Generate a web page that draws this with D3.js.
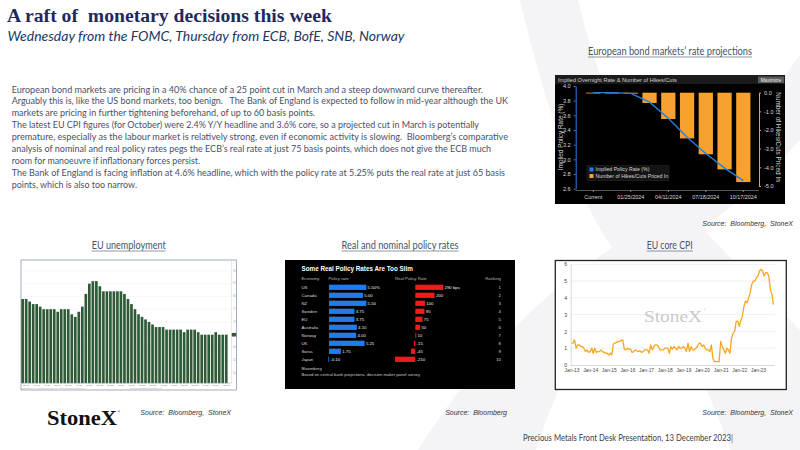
<!DOCTYPE html>
<html>
<head>
<meta charset="utf-8">
<script src="https://cdn.jsdelivr.net/npm/d3@7"></script>
<style>
  html, body { margin: 0; padding: 0; background: #fff; }
  svg { display: block; }
  text { white-space: pre; }
</style>
</head>
<body>
<div id="svgContainer"></div>
<script>
// ---- text ----
const title = "A raft of  monetary decisions this week";
const subtitle = "Wednesday from the FOMC, Thursday from ECB, BofE, SNB, Norway";
const paraLines = [
  "European bond markets are pricing in a 40% chance of a 25 point cut in March and a steep downward curve thereafter.",
  "Arguably this is, like the US bond markets, too benign.   The Bank of England is expected to follow in mid-year although the UK",
  "markets are pricing in further tightening beforehand, of up to 60 basis points.",
  "The latest EU CPI figures (for October) were 2.4% Y/Y headline and 3.6% core, so a projected cut in March is potentially",
  "premature, especially as the labour market is relatively strong, even if economic activity is slowing.  Bloomberg\u2019s comparative",
  "analysis of nominal and real policy rates pegs the ECB\u2019s real rate at just 75 basis points, which does not give the ECB much",
  "room for manoeuvre if inflationary forces persist.",
  "The Bank of England is facing inflation at 4.6% headline, which with the policy rate at 5.25% puts the real rate at just 65 basis",
  "points, which is also too narrow."
];
// right end of each paragraph line (layout)
const paraEnds = [483, 508, 315, 479, 508, 491, 200, 505, 137];

// ---- European bond markets' rate projections ----
const meetings = ["Current", "12/14/2023", "01/25/2024", "03/07/2024", "04/11/2024",
                  "06/06/2024", "07/18/2024", "09/12/2024", "10/17/2024"];
const meetingLabels = ["Current", "01/25/2024", "04/11/2024", "07/18/2024", "10/17/2024"];
const impliedRate = [3.91, 3.91, 3.90, 3.78, 3.56, 3.30, 3.08, 2.88, 2.71];
const hikesCuts = [0.0, -0.02, -0.05, -0.55, -1.41, -2.45, -3.30, -4.11, -4.79];

// ---- EU unemployment (monthly, Dec 2018 - Oct 2023) ----
const unempStart = new Date(2018, 11, 1);
const unemployment = [
  7.9, 7.9, 7.8, 7.7, 7.7, 7.6, 7.5, 7.5, 7.5, 7.5, 7.4, 7.5,
  7.5, 7.5, 7.3, 7.2, 7.4, 7.6, 8.1, 8.5, 8.6, 8.6, 8.4, 8.2,
  8.2, 8.2, 8.2, 8.2, 8.2, 8.1, 7.9, 7.7, 7.5, 7.3, 7.2, 7.1,
  7.0, 6.9, 6.8, 6.8, 6.8, 6.7, 6.7, 6.7, 6.7, 6.7, 6.6, 6.7,
  6.7, 6.7, 6.6, 6.5, 6.5, 6.5, 6.5, 6.6, 6.5, 6.5, 6.5
];
const unempTicks = [5.0, 5.5, 6.0, 6.5, 7.0, 7.5, 8.0, 8.5, 9.0];

// ---- Real and nominal policy rates ----
const economies = ["US", "Canada", "NZ", "Sweden", "EU", "Australia", "Norway", "UK", "Swiss", "Japan"];
const policyRate = [5.50, 5.00, 5.50, 3.75, 3.75, 4.10, 4.00, 5.25, 1.75, -0.10];
const policyLabels = ["5.50%", "5.00", "5.50", "3.75", "3.75", "4.10", "4.00", "5.25", "1.75", "-0.10"];
const realRate = [290, 200, 100, 95, 75, 50, 10, -15, -45, -210];
const realLabels = ["290 bps", "200", "100", "95", "75", "50", "10", "-15", "-45", "-210"];
const ranking = [1, 2, 3, 4, 5, 6, 7, 8, 9, 10];

// ---- EU core CPI (monthly, Jan 2013 - Nov 2023) ----
const cpiStart = new Date(2013, 0, 1);
const coreCpi = [
  1.3, 1.3, 1.5, 1.0, 1.2, 1.2, 1.1, 1.1, 1.0, 0.8, 0.9, 0.75,
  0.8, 1.0, 0.7, 1.0, 0.75, 0.8, 0.8, 0.9, 0.8, 0.75, 0.7, 0.7,
  0.6, 0.7, 0.6, 1.25, 1.3, 1.35, 1.4, 1.4, 1.45, 1.5, 0.95, 0.9,
  1.0, 0.95, 0.95, 0.75, 0.8, 0.9, 0.85, 0.8, 0.85, 0.75, 0.8, 0.9,
  0.9, 0.9, 0.7, 1.2, 0.9, 1.1, 1.2, 1.2, 1.1, 0.9, 0.9, 0.9,
  1.0, 1.0, 1.0, 0.7, 1.1, 0.95, 1.1, 1.0, 0.9, 1.1, 1.0, 1.0,
  1.1, 1.0, 0.8, 1.3, 0.8, 1.1, 0.9, 0.9, 1.0, 1.1, 1.3, 1.3,
  1.1, 1.2, 1.0, 0.9, 0.9, 0.8, 1.2, 0.4, 0.2, 0.2, 0.2, 0.2,
  1.4, 1.1, 0.9, 0.7, 1.0, 0.9, 0.7, 1.6, 1.9, 2.0, 2.6, 2.6,
  2.3, 2.7, 2.9, 3.5, 3.8, 3.7, 4.0, 4.3, 4.8, 5.0, 5.0, 5.2,
  5.3, 5.6, 5.7, 5.6, 5.3, 5.5, 5.5, 5.3, 4.5, 4.2, 3.6
];
const cpiTickYears = [2013, 2014, 2015, 2016, 2017, 2018, 2019, 2020, 2021, 2022, 2023];

const width = 800, height = 450;
const svg = d3.select("#svgContainer").append("svg")
  .attr("width", width).attr("height", height);

// faint logo watermark behind everything
const wm = svg.append("g").attr("fill", "#f4f4f7");
wm.append("path").attr("d", "M418,450 Q500,320 612,248 Q700,190 800,55 L800,140 Q720,230 640,262 Q575,330 536,450 Z");
wm.append("path").attr("d", "M730,450 Q690,330 612,248 Q560,170 520,0 L578,0 Q610,140 690,215 Q770,300 800,330 L800,450 Z");

// ---- title ----
svg.append("text")
  .attr("x", 7).attr("y", 21.5)
  .attr("font-family", "Liberation Serif, serif")
  .attr("font-weight", "bold")
  .attr("font-size", "19.5px")
  .attr("fill", "#1f2a5c")
  .attr("textLength", 325).attr("lengthAdjust", "spacingAndGlyphs")
  .text(title);
svg.append("text")
  .attr("x", 7.5).attr("y", 40.5)
  .attr("font-family", "Lato, sans-serif")
  .attr("font-style", "italic")
  .attr("font-size", "14px")
  .attr("fill", "#203864")
  .attr("textLength", 397).attr("lengthAdjust", "spacingAndGlyphs")
  .text(subtitle);

// ---- paragraph ----
paraLines.forEach((line, i) => {
  svg.append("text")
    .attr("x", 11.7).attr("y", 92.5 + i * 11.95)
    .attr("font-family", "Lato, sans-serif")
    .attr("font-size", "9.6px")
    .attr("fill", "#4a5068")
    .attr("textLength", paraEnds[i] - 11.7).attr("lengthAdjust", "spacingAndGlyphs")
    .text(line);
});

// chart headings (underlined)
function heading(text, cx, y, w) {
  svg.append("text")
    .attr("x", cx).attr("y", y)
    .attr("text-anchor", "middle")
    .attr("font-family", "Lato, sans-serif")
    .attr("font-size", "10.5px")
    .attr("fill", "#44546a")
    .attr("textLength", w).attr("lengthAdjust", "spacingAndGlyphs")
    .text(text);
  svg.append("line")
    .attr("x1", cx - w / 2).attr("x2", cx + w / 2)
    .attr("y1", y + 2).attr("y2", y + 2)
    .attr("stroke", "#44546a").attr("stroke-width", 0.6);
}
heading("European bond markets\u2019 rate projections", 670, 55, 164);
heading("EU unemployment", 128.7, 249, 74);
heading("Real and nominal policy rates", 400, 249, 117);
heading("EU core CPI", 669.7, 249, 46);

function source(text, xRight, y) {
  svg.append("text")
    .attr("x", xRight).attr("y", y)
    .attr("text-anchor", "end")
    .attr("font-family", "Liberation Sans, Arial, sans-serif")
    .attr("font-style", "italic")
    .attr("font-size", "7px")
    .attr("fill", "#333")
    .text(text);
}
source("Source:  Bloomberg,  StoneX", 793, 226);
source("Source:  Bloomberg,  StoneX", 231, 414.5);
source("Source:  Bloomberg", 507, 415);
source("Source:  Bloomberg,  StoneX", 793, 414.5);

// ================= Bloomberg rate projections =================
const bb = svg.append("g").attr("font-family", "Liberation Sans, Arial, sans-serif");
bb.append("rect").attr("x", 555).attr("y", 75).attr("width", 230).attr("height", 129).attr("fill", "#000");
bb.append("rect").attr("x", 555).attr("y", 75).attr("width", 230).attr("height", 9).attr("fill", "#1b1b1b");
bb.append("text").attr("x", 558).attr("y", 81.8).attr("font-size", "5.6px").attr("fill", "#d0d0d0")
  .text("Implied Overnight Rate & Number of Hikes/Cuts");
bb.append("rect").attr("x", 758).attr("y", 76.5).attr("width", 26).attr("height", 6.5).attr("fill", "#5a5a5a");
bb.append("text").attr("x", 771).attr("y", 81.5).attr("text-anchor", "middle").attr("font-size", "4.8px")
  .attr("fill", "#eee").text("Maximize");

const bx = d3.scaleBand().domain(meetings).range([583.9, 752.7]).paddingInner(0.24).paddingOuter(0.12);
const yL = d3.scaleLinear().domain([2.6, 4.0]).range([188.7, 86]);
const yR = d3.scaleLinear().domain([-5, 0]).range([186, 92.7]);

bb.append("g").selectAll("rect").data(hikesCuts).join("rect")
  .attr("x", (d, i) => bx(meetings[i]))
  .attr("width", bx.bandwidth())
  .attr("y", yR(0))
  .attr("height", d => Math.max(0.8, yR(d) - yR(0)))
  .attr("fill", "#f7a12e");

const line = d3.line()
  .x((d, i) => bx(meetings[i]) + bx.bandwidth() / 2)
  .y(d => yL(d));
bb.append("path").datum(impliedRate)
  .attr("d", line)
  .attr("fill", "none")
  .attr("stroke", "#1f7fe3")
  .attr("stroke-width", 1.4);

const axL = bb.append("g").attr("transform", "translate(575.7,0)")
  .call(d3.axisLeft(yL).tickValues(d3.range(2.6, 4.01, 0.2)).tickFormat(d => d.toFixed(1)).tickSize(2).tickSizeOuter(0));
axL.select(".domain").attr("stroke", "#2a7fe0");
axL.selectAll(".tick line").attr("stroke", "#2a7fe0");
axL.selectAll("text").attr("fill", "#d8d8d8").attr("font-size", "5.6px").attr("font-family", "Liberation Sans, Arial, sans-serif");

const axR = bb.append("g").attr("transform", "translate(759,0)")
  .call(d3.axisRight(yR).tickValues([-5, -4, -3, -2, -1, 0]).tickFormat(d => d.toFixed(1)).tickSize(2).tickSizeOuter(0));
axR.select(".domain").attr("stroke", "#f7a12e");
axR.selectAll(".tick line").attr("stroke", "#f7a12e");
axR.selectAll("text").attr("fill", "#d8d8d8").attr("font-size", "5.6px").attr("font-family", "Liberation Sans, Arial, sans-serif");

const axB = bb.append("g").attr("transform", "translate(0,190)")
  .call(d3.axisBottom(bx).tickValues(meetingLabels).tickSize(2).tickSizeOuter(0));
axB.select(".domain").attr("stroke", "#555").attr("d", "M575.7,0.5H759");
axB.selectAll(".tick line").attr("stroke", "#888");
axB.selectAll("text").attr("fill", "#d8d8d8").attr("font-size", "5.4px").attr("font-family", "Liberation Sans, Arial, sans-serif");

bb.append("text").attr("transform", "translate(563,137) rotate(-90)").attr("text-anchor", "middle")
  .attr("font-size", "6.4px").attr("fill", "#d8d8d8").text("Implied Policy Rate (%)");
bb.append("text").attr("transform", "translate(776,137) rotate(90)").attr("text-anchor", "middle")
  .attr("font-size", "6.4px").attr("fill", "#d8d8d8").text("Number of Hikes/Cuts Priced In");

const lg = bb.append("g");
lg.append("rect").attr("x", 587).attr("y", 165.5).attr("width", 82).attr("height", 15).attr("fill", "#141414").attr("stroke", "#333").attr("stroke-width", 0.4);
[["Implied Policy Rate (%)", "#1f7fe3"], ["Number of Hikes/Cuts Priced In", "#f7a12e"]].forEach((d, i) => {
  lg.append("rect").attr("x", 589.5).attr("y", 167.5 + i * 6.5).attr("width", 4).attr("height", 4).attr("fill", d[1]);
  lg.append("text").attr("x", 595.5).attr("y", 171.2 + i * 6.5).attr("font-size", "5.2px").attr("fill", "#d8d8d8").text(d[0]);
});

// ================= EU unemployment =================
const ue = svg.append("g").attr("font-family", "Liberation Sans, Arial, sans-serif");
ue.append("rect").attr("x", 21).attr("y", 260).attr("width", 215.5).attr("height", 130)
  .attr("fill", "#fff").attr("stroke", "#8c97b6").attr("stroke-width", 0.8);
const uMonths = unemployment.map((d, i) => d3.timeMonth.offset(unempStart, i));
const ux = d3.scaleBand().domain(uMonths).range([21.3, 227.6]).paddingInner(0.24);
const uy = d3.scaleLinear().domain([4.6, 9.4]).range([383.2, 260.7]);
ue.append("g").selectAll("line").data(unempTicks).join("line")
  .attr("x1", 21.3).attr("x2", 231.5)
  .attr("y1", d => uy(d)).attr("y2", d => uy(d))
  .attr("stroke", "#ececec").attr("stroke-width", 0.5);
ue.append("line").attr("x1", 231.5).attr("x2", 231.5).attr("y1", 261).attr("y2", 383.2)
  .attr("stroke", "#d0d0d0").attr("stroke-width", 0.5);
ue.append("g").selectAll("rect").data(unemployment).join("rect")
  .attr("x", (d, i) => ux(uMonths[i]))
  .attr("width", ux.bandwidth())
  .attr("y", d => uy(d))
  .attr("height", d => uy(4.6) - uy(d))
  .attr("fill", "#2f5a36");
ue.append("line").attr("x1", 21.3).attr("x2", 231.5).attr("y1", uy(4.6)).attr("y2", uy(4.6))
  .attr("stroke", "#9aa5b8").attr("stroke-width", 0.5);
ue.append("g").selectAll("text").data(unempTicks).join("text")
  .attr("x", 233).attr("y", d => uy(d) + 0.8)
  .attr("font-size", "2.6px").attr("fill", "#999")
  .text(d => d.toFixed(1));
const last = unemployment[unemployment.length - 1];
ue.append("rect").attr("x", 231.8).attr("y", uy(last) - 1.8).attr("width", 4.4).attr("height", 3.6).attr("fill", "#2f5a36");
ue.append("g").selectAll("text").data(uMonths.filter((d, i) => i % 3 === 1)).join("text")
  .attr("x", d => ux(d) + ux.bandwidth() / 2).attr("y", 386.2)
  .attr("text-anchor", "middle").attr("font-size", "2.3px").attr("fill", "#777")
  .text(d3.timeFormat("%b %y"));
ue.append("text").attr("x", 22).attr("y", 389.3).attr("font-size", "1.8px").attr("fill", "#999")
  .text("Eurostat Euro Area Unemployment Rate (SA)  Source: Bloomberg Finance L.P.");
ue.append("text").attr("x", 130).attr("y", 389.3).attr("font-size", "1.8px").attr("fill", "#999")
  .text("Copyright 2023 Bloomberg Finance L.P.");

// ================= Real and nominal policy rates =================
const pr = svg.append("g").attr("font-family", "Liberation Sans, Arial, sans-serif");
pr.append("rect").attr("x", 285).attr("y", 260).attr("width", 230).attr("height", 129).attr("fill", "#000");
pr.append("text").attr("x", 301.5).attr("y", 271.2).attr("font-size", "6.3px").attr("font-weight", "bold")
  .attr("fill", "#fff").text("Some Real Policy Rates Are Too Slim");
[["Economy", 301.5, "start"], ["Policy rate", 328.5, "start"], ["Real Policy Rate", 395, "start"], ["Ranking", 501, "end"]]
  .forEach(h => pr.append("text").attr("x", h[1]).attr("y", 280.2).attr("text-anchor", h[2])
    .attr("font-size", "4.3px").attr("fill", "#bbb").text(h[0]));

const ry = d3.scaleBand().domain(economies).range([283.3, 363.3]).paddingInner(0.34).paddingOuter(0.17);
const px = d3.scaleLinear().domain([0, 5.5]).range([329, 366.3]);
const rx = d3.scaleLinear().domain([0, 290]).range([415.3, 443.3]);
const rows = pr.append("g").selectAll("g").data(economies).join("g");
const mid = d => ry(d) + ry.bandwidth() / 2;
rows.append("text").attr("x", 301.5).attr("y", d => mid(d) + 1.5)
  .attr("font-size", "4.3px").attr("fill", "#ddd").text(d => d);
rows.append("rect")
  .attr("x", (d, i) => px(Math.min(0, policyRate[i])))
  .attr("width", (d, i) => Math.max(0.7, Math.abs(px(policyRate[i]) - px(0))))
  .attr("y", d => ry(d)).attr("height", ry.bandwidth())
  .attr("fill", "#1f7cf0");
rows.append("text")
  .attr("x", (d, i) => px(Math.max(0, policyRate[i])) + 1.3)
  .attr("y", d => mid(d) + 1.5)
  .attr("font-size", "4.3px").attr("fill", "#eee").text((d, i) => policyLabels[i]);
rows.append("rect")
  .attr("x", (d, i) => rx(Math.min(0, realRate[i])))
  .attr("width", (d, i) => Math.max(0.7, Math.abs(rx(realRate[i]) - rx(0))))
  .attr("y", d => ry(d)).attr("height", ry.bandwidth())
  .attr("fill", "#f01a1a");
rows.append("text")
  .attr("x", (d, i) => rx(Math.max(0, realRate[i])) + 1.3)
  .attr("y", d => mid(d) + 1.5)
  .attr("font-size", "4.3px").attr("fill", "#eee").text((d, i) => realLabels[i]);
rows.append("text").attr("x", 501).attr("y", d => mid(d) + 1.5).attr("text-anchor", "end")
  .attr("font-size", "4.3px").attr("fill", "#ddd").text((d, i) => ranking[i]);
pr.append("text").attr("x", 301.5).attr("y", 370.3).attr("font-size", "4.2px").attr("fill", "#ccc").text("Bloomberg");
pr.append("text").attr("x", 301.5).attr("y", 375.6).attr("font-size", "4.2px").attr("fill", "#ccc")
  .text("Based on central bank projections, decision maker panel survey");

// ================= EU core CPI =================
const cp = svg.append("g").attr("font-family", "Liberation Sans, Arial, sans-serif");
cp.append("rect").attr("x", 555.3).attr("y", 260.5).attr("width", 231).attr("height", 129)
  .attr("fill", "#fff").attr("stroke", "#222").attr("stroke-width", 1.3);
const cMonths = coreCpi.map((d, i) => d3.timeMonth.offset(cpiStart, i));
const cx = d3.scaleTime().domain([cpiStart, cMonths[cMonths.length - 1]]).range([571.5, 773.5]);
const cy = d3.scaleLinear().domain([0, 6]).range([365, 264.3]);
cp.append("g").selectAll("line").data([1, 2, 3, 4, 5, 6]).join("line")
  .attr("x1", 570.7).attr("x2", 775).attr("y1", d => cy(d)).attr("y2", d => cy(d))
  .attr("stroke", "#e6e6e6").attr("stroke-width", 0.6);
cp.append("text").attr("x", 673).attr("y", 321.5).attr("text-anchor", "middle")
  .attr("font-family", "Liberation Serif, serif").attr("font-size", "17.5px").attr("fill", "#c9c9c9")
  .attr("textLength", 58).attr("lengthAdjust", "spacingAndGlyphs").text("StoneX");
cp.append("text").attr("x", 703.5).attr("y", 310.5).attr("font-size", "3px").attr("fill", "#c9c9c9").text("\u00ae");
const cyAx = cp.append("g").attr("transform", "translate(570.7,0)")
  .call(d3.axisLeft(cy).tickValues([0, 1, 2, 3, 4, 5, 6]).tickFormat(d3.format("d")).tickSize(0).tickPadding(3.5));
cyAx.select(".domain").attr("stroke", "#bfbfbf").attr("stroke-width", 0.6);
cyAx.selectAll("text").attr("fill", "#444").attr("font-size", "5.2px").attr("font-family", "Liberation Sans, Arial, sans-serif");
const cxAx = cp.append("g").attr("transform", "translate(0,365)")
  .call(d3.axisBottom(cx).tickValues(cpiTickYears.map(y => new Date(y, 0, 1)))
    .tickFormat(d3.timeFormat("Jan-%y")).tickSize(0).tickPadding(3.5));
cxAx.select(".domain").attr("stroke", "#bfbfbf").attr("stroke-width", 0.6).attr("d", "M570.7,0.5H775");
cxAx.selectAll("text").attr("fill", "#444").attr("font-size", "4.9px").attr("font-family", "Liberation Sans, Arial, sans-serif");
cp.append("path").datum(coreCpi)
  .attr("d", d3.line().x((d, i) => cx(cMonths[i])).y(d => cy(d)))
  .attr("fill", "none").attr("stroke", "#f5a623").attr("stroke-width", 1.3).attr("stroke-linejoin", "round");

// ---- logo and footer ----
svg.append("text").attr("x", 47).attr("y", 425)
  .attr("font-family", "Liberation Serif, serif").attr("font-weight", "bold").attr("font-size", "22px").attr("fill", "#111")
  .attr("textLength", 70).attr("lengthAdjust", "spacingAndGlyphs").text("StoneX");
svg.append("text").attr("x", 117.5).attr("y", 413).attr("font-family", "Liberation Sans, sans-serif")
  .attr("font-size", "3.5px").attr("fill", "#111").text("\u00ae");
svg.append("text").attr("x", 523).attr("y", 440.5)
  .attr("font-family", "Lato, sans-serif").attr("font-size", "9px").attr("fill", "#404040")
  .attr("textLength", 210).attr("lengthAdjust", "spacingAndGlyphs")
  .text("Precious Metals Front Desk Presentation, 13 December 2023|");
</script>
</body>
</html>
